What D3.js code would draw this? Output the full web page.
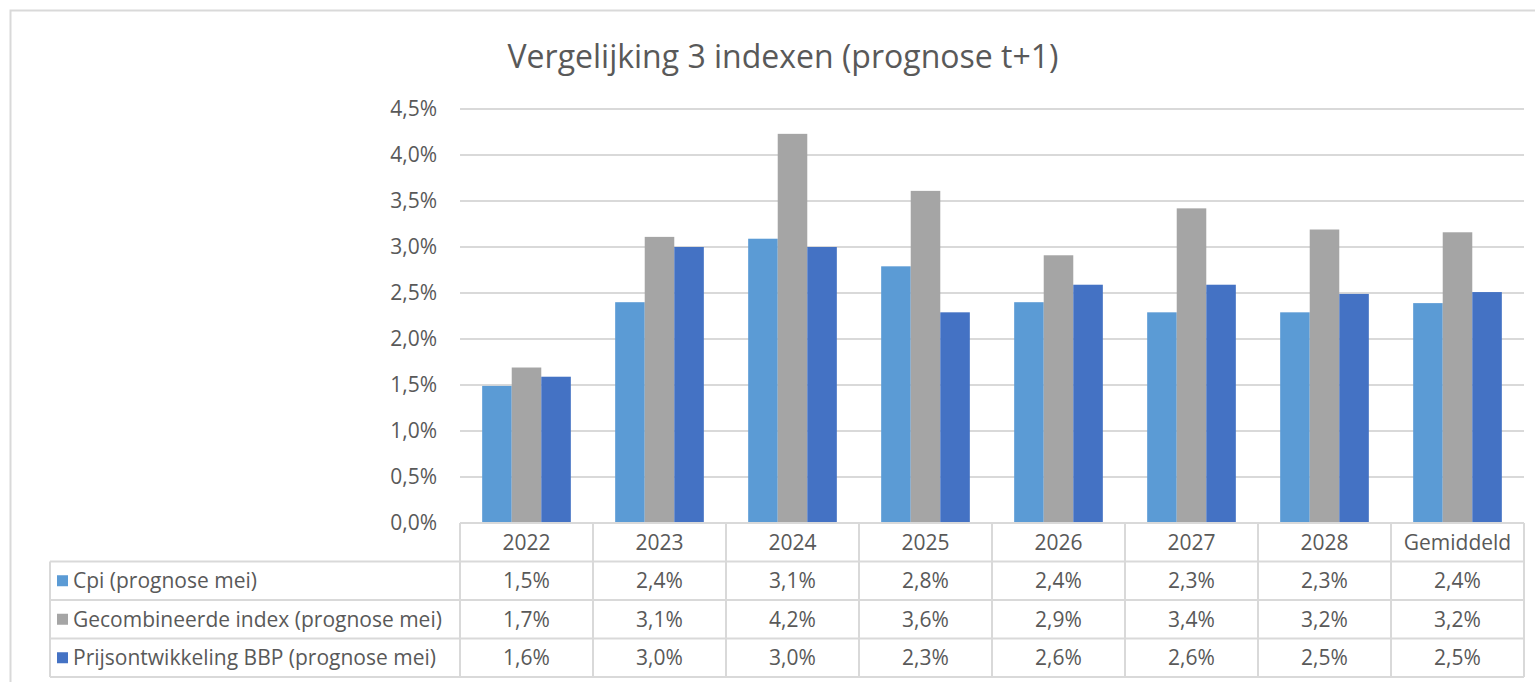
<!DOCTYPE html>
<html>
<head>
<meta charset="utf-8">
<script src="https://cdn.jsdelivr.net/npm/d3@7"></script>
<style>
  body { margin: 0; background: #fff; }
  text { font-family: "Open Sans", "Noto Sans", sans-serif; fill: #595959; }
</style>
</head>
<body>
<svg id="chart"></svg>
<script>
const width = 1535;
const height = 682;

// data
const categories = ['2022', '2023', '2024', '2025', '2026', '2027', '2028', 'Gemiddeld'];
const seriesNames = ['Cpi (prognose mei)', 'Gecombineerde index (prognose mei)', 'Prijsontwikkeling BBP (prognose mei)'];
const cpi = [1.49, 2.40, 3.09, 2.79, 2.40, 2.29, 2.29, 2.39];
const gecombineerd = [1.69, 3.11, 4.23, 3.61, 2.91, 3.42, 3.19, 3.16];
const bbp = [1.59, 3.00, 3.00, 2.29, 2.59, 2.59, 2.49, 2.51];
const yTicks = [0, 0.5, 1, 1.5, 2, 2.5, 3, 3.5, 4, 4.5];
const colors = ['#5b9bd5', '#a5a5a5', '#4472c4'];

const series = [cpi, gecombineerd, bbp];

const svg = d3.select('#chart')
    .attr('width', width)
    .attr('height', height);

// outer chart frame
svg.append('rect')
    .attr('x', 10.5).attr('y', 10.5)
    .attr('width', width + 20).attr('height', height + 20)
    .attr('fill', 'none')
    .attr('stroke', '#d9d9d9')
    .attr('stroke-width', 2);

const plot = { left: 460, right: 1524, top: 109, bottom: 523 };
const rowH = 38.5;
const tableLeft = 50;
const fontSize = '21px';

const fmt = v => d3.format('.1f')(v).replace('.', ',') + '%';

svg.append('text')
    .attr('x', 783)
    .attr('y', 68)
    .attr('text-anchor', 'middle')
    .style('font-size', '32px')
    .text('Vergelijking 3 indexen (prognose t+1)');

const x = d3.scaleBand()
    .domain(categories)
    .range([plot.left, plot.right])
    .paddingInner(0)
    .paddingOuter(0);

const xInner = d3.scaleBand()
    .domain(d3.range(series.length))
    .range([0, x.bandwidth()])
    .paddingOuter(0.75)
    .paddingInner(0);

const y = d3.scaleLinear()
    .domain([0, 4.5])
    .range([plot.bottom, plot.top]);

// gridlines
svg.append('g')
    .selectAll('line')
    .data(yTicks.filter(d => d > 0))
    .join('line')
    .attr('x1', plot.left).attr('x2', plot.right)
    .attr('y1', d => y(d)).attr('y2', d => y(d))
    .attr('stroke', '#d9d9d9')
    .attr('stroke-width', 2);

// y axis
const yAxis = svg.append('g')
    .attr('transform', `translate(${plot.left},0)`)
    .call(d3.axisLeft(y).tickValues(yTicks).tickSize(0).tickPadding(23).tickFormat(fmt));
yAxis.select('.domain').remove();
yAxis.selectAll('text')
    .style('font-size', fontSize)
    .attr('fill', '#595959');

// bars
const groups = svg.append('g')
    .selectAll('g')
    .data(categories)
    .join('g')
    .attr('transform', d => `translate(${x(d)},0)`);

groups.selectAll('rect')
    .data((d, i) => series.map((s, k) => ({ k: k, v: s[i] })))
    .join('rect')
    .attr('x', d => xInner(d.k))
    .attr('width', xInner.bandwidth())
    .attr('y', d => y(d.v))
    .attr('height', d => y(0) - y(d.v))
    .attr('fill', d => colors[d.k]);

// data table
const table = svg.append('g').attr('id', 'table_g');
const gridStyle = sel => sel.attr('stroke', '#d9d9d9').attr('stroke-width', 2).attr('fill', 'none');

const tableBottom = plot.bottom + rowH * (series.length + 1);

// horizontal lines
table.append('line')
    .attr('x1', plot.left).attr('x2', plot.right)
    .attr('y1', plot.bottom).attr('y2', plot.bottom)
    .call(gridStyle);
d3.range(1, series.length + 2).forEach(r => {
    table.append('line')
        .attr('x1', tableLeft).attr('x2', plot.right)
        .attr('y1', plot.bottom + r * rowH).attr('y2', plot.bottom + r * rowH)
        .call(gridStyle);
});

// vertical lines
table.append('line')
    .attr('x1', tableLeft).attr('x2', tableLeft)
    .attr('y1', plot.bottom + rowH).attr('y2', tableBottom)
    .call(gridStyle);
categories.concat(['__end']).forEach((c, i) => {
    const xx = plot.left + i * x.bandwidth();
    table.append('line')
        .attr('x1', xx).attr('x2', xx)
        .attr('y1', plot.bottom).attr('y2', tableBottom)
        .call(gridStyle);
});

// header labels
table.selectAll('text.cat')
    .data(categories)
    .join('text')
    .attr('class', 'cat')
    .attr('x', d => x(d) + x.bandwidth() / 2)
    .attr('y', plot.bottom + rowH / 2)
    .attr('dy', '0.35em')
    .attr('text-anchor', 'middle')
    .style('font-size', fontSize)
    .text(d => d);

// rows
series.forEach((s, k) => {
    const rowY = plot.bottom + (k + 1) * rowH;
    table.append('rect')
        .attr('x', 57).attr('y', rowY + rowH / 2 - 5.5)
        .attr('width', 11).attr('height', 11)
        .attr('fill', colors[k]);
    table.append('text')
        .attr('x', 73)
        .attr('y', rowY + rowH / 2)
        .attr('dy', '0.35em')
        .style('font-size', fontSize)
        .text(seriesNames[k]);
    table.selectAll(null)
        .data(categories)
        .enter().append('text')
        .attr('x', d => x(d) + x.bandwidth() / 2)
        .attr('y', rowY + rowH / 2)
        .attr('dy', '0.35em')
        .attr('text-anchor', 'middle')
        .style('font-size', fontSize)
        .text((d, i) => fmt(s[i]));
});
</script>
</body>
</html>
